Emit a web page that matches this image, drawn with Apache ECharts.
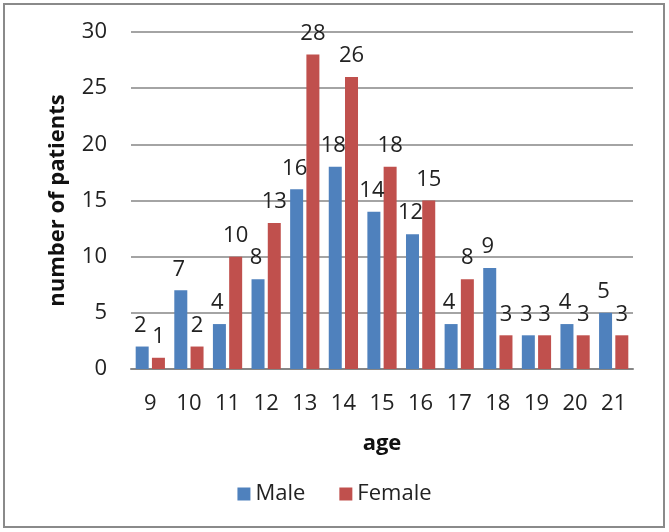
<!DOCTYPE html>
<html>
<head>
<meta charset="utf-8">
<script src="https://cdn.jsdelivr.net/npm/echarts@6/dist/echarts.min.js"></script>
<style>
  html, body { margin: 0; padding: 0; background: #fff; }
  #chart { width: 669px; height: 532px; }
</style>
</head>
<body>
<div id="chart"></div>
<script>
const ages = ['9', '10', '11', '12', '13', '14', '15', '16', '17', '18', '19', '20', '21'];
const male = [2, 7, 4, 8, 16, 18, 14, 12, 4, 9, 3, 4, 5];
const female = [1, 2, 10, 13, 28, 26, 18, 15, 8, 3, 3, 3, 3];

const font = '"Open Sans", Lato, sans-serif';
const chart = echarts.init(document.getElementById('chart'));

const option = {
  animation: false,
  textStyle: { fontFamily: font, color: '#222' },
  graphic: [
    {
      type: 'rect',
      shape: { x: 4, y: 4, width: 660, height: 523 },
      style: { fill: 'none', stroke: '#8a8a8a', lineWidth: 2 }
    }
  ],
  legend: {
    top: 478,
    left: 'center',
    icon: 'rect',
    itemWidth: 13,
    itemHeight: 13,
    itemGap: 34,
    textStyle: { fontSize: 22, color: '#222', fontFamily: font },
    data: ['Male', 'Female']
  },
  grid: {
    left: 131,
    right: 36,
    top: 32,
    bottom: 163
  },
  xAxis: {
    type: 'category',
    data: ages,
    name: 'age',
    nameLocation: 'middle',
    nameGap: 64,
    nameMoveOverlap: false,
    nameTextStyle: { fontSize: 22, fontWeight: 'bold', color: '#111', fontFamily: font },
    axisTick: { show: false },
    axisLine: { lineStyle: { color: '#868686', width: 2 } },
    axisLabel: { fontSize: 22, color: '#222', margin: 24, fontFamily: font }
  },
  yAxis: {
    type: 'value',
    min: 0,
    max: 30,
    interval: 5,
    name: 'number of patients',
    nameLocation: 'middle',
    nameGap: 62,
    nameMoveOverlap: false,
    nameTextStyle: { fontSize: 22, fontWeight: 'bold', color: '#111', fontFamily: font },
    axisLine: { show: false },
    axisTick: { show: false },
    axisLabel: { fontSize: 22, color: '#222', margin: 24, fontFamily: font },
    splitLine: { lineStyle: { color: '#868686', width: 1.5 } }
  },
  series: [
    {
      name: 'Male',
      type: 'bar',
      data: male,
      barWidth: 13,
      barGap: '25%',
      itemStyle: { color: '#4f81bd' },
      label: { show: true, position: 'top', distance: 10, offset: [-2, 0], fontSize: 22, color: '#222', fontFamily: font }
    },
    {
      name: 'Female',
      type: 'bar',
      data: female,
      barWidth: 13,
      itemStyle: { color: '#c0504d' },
      label: { show: true, position: 'top', distance: 10, fontSize: 22, color: '#222', fontFamily: font }
    }
  ]
};

chart.setOption(option);
</script>
</body>
</html>
